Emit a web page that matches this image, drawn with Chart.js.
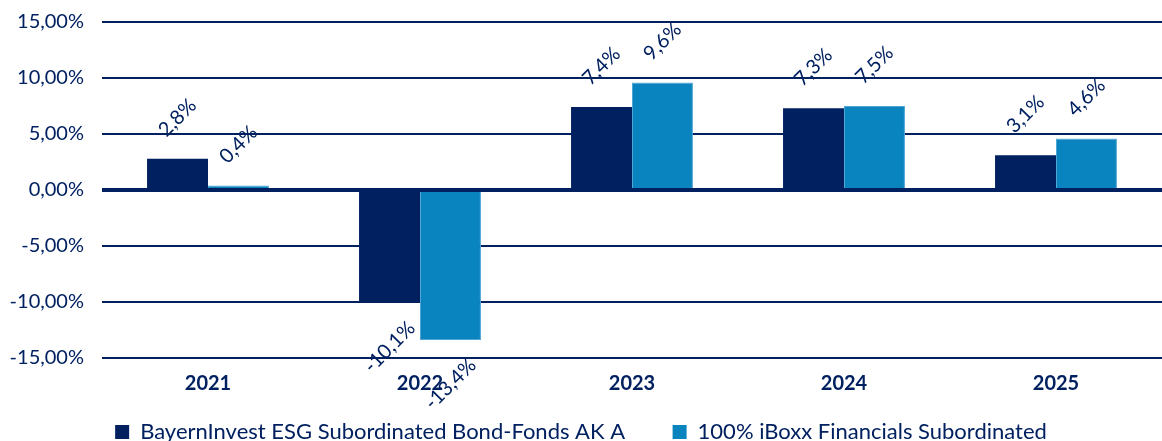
<!DOCTYPE html>
<html>
<head>
<meta charset="utf-8">
<script src="https://cdn.jsdelivr.net/npm/chart.js@4"></script>
<style>
html,body{margin:0;padding:0;background:#fff;}
#wrap{width:1162px;height:441px;position:relative;}
</style>
</head>
<body>
<div id="wrap"><canvas id="c" width="1162" height="441"></canvas></div>
<script>
const categories = ['2021', '2022', '2023', '2024', '2025'];
const fundName = 'BayernInvest ESG Subordinated Bond-Fonds AK A';
const benchName = '100% iBoxx Financials Subordinated';
const fundValues = [2.8, -10.1, 7.4, 7.3, 3.1];
const benchValues = [0.4, -13.4, 9.6, 7.5, 4.6];
const yTicks = [-15, -10, -5, 0, 5, 10, 15];

const NAVY = '#002060';
const LIGHT = '#0A84BE';
const FONT = 'Lato, "Open Sans", sans-serif';

const fmtTick = v => v.toFixed(2).replace('.', ',') + '%';
const fmtLabel = v => v.toFixed(1).replace('.', ',') + '%';

const labelPlugin = {
  id: 'rotLabels',
  afterDatasetsDraw(chart) {
    const ctx = chart.ctx;
    ctx.save();
    ctx.fillStyle = NAVY;
    ctx.font = '20px ' + FONT;
    ctx.textAlign = 'center';
    ctx.textBaseline = 'middle';
    chart.data.datasets.forEach((ds, di) => {
      const meta = chart.getDatasetMeta(di);
      meta.data.forEach((el, i) => {
        const v = ds.data[i];
        const off = v >= 0 ? -41 : 44;
        ctx.save();
        ctx.translate(el.x, el.y + off);
        ctx.rotate(-Math.PI / 4);
        ctx.fillText(fmtLabel(v), 0, 0);
        ctx.restore();
      });
    });
    ctx.restore();
  }
};

new Chart(document.getElementById('c'), {
  type: 'bar',
  data: {
    labels: categories,
    datasets: [
      { label: fundName, data: fundValues, backgroundColor: NAVY, borderWidth: 0 },
      { label: benchName, data: benchValues, backgroundColor: LIGHT, borderColor: '#4FA6D6', borderWidth: 1 }
    ]
  },
  options: {
    responsive: false,
    animation: false,
    maintainAspectRatio: false,
    layout: { padding: { top: 22, right: 0, left: 0, bottom: -12 } },
    datasets: { bar: { categoryPercentage: 0.575, barPercentage: 1.0 } },
    plugins: {
      tooltip: { enabled: false },
      legend: {
        position: 'bottom',
        labels: {
          color: NAVY,
          font: { family: FONT, size: 22 },
          boxWidth: 14,
          boxHeight: 14,
          padding: 20,
          useBorderRadius: false,
          generateLabels(chart) {
            const items = Chart.defaults.plugins.legend.labels.generateLabels(chart);
            items.forEach((it, i) => {
              it.lineWidth = 0;
              if (i < items.length - 1) it.text = it.text + '\u2003\u2002';
            });
            return items;
          }
        }
      }
    },
    scales: {
      x: {
        grid: { display: false, drawTicks: false },
        border: { display: false },
        ticks: { color: NAVY, font: { family: FONT, size: 20, weight: 'bold' }, padding: 14 },
        afterFit(s) { s.height = 43; }
      },
      y: {
        min: -15, max: 15,
        afterBuildTicks(s) { s.ticks = yTicks.map(v => ({ value: v })); },
        grid: {
          color: NAVY,
          lineWidth: c => (c.tick && c.tick.value === 0 ? 4 : 2),
          drawTicks: false
        },
        border: { display: false },
        ticks: { color: NAVY, font: { family: FONT, size: 20 }, padding: 18, callback: v => fmtTick(v) },
        afterFit(s) { s.width = 102; s.paddingTop = 0; s.paddingBottom = 0; }
      }
    }
  },
  plugins: [labelPlugin]
});
</script>
</body>
</html>
